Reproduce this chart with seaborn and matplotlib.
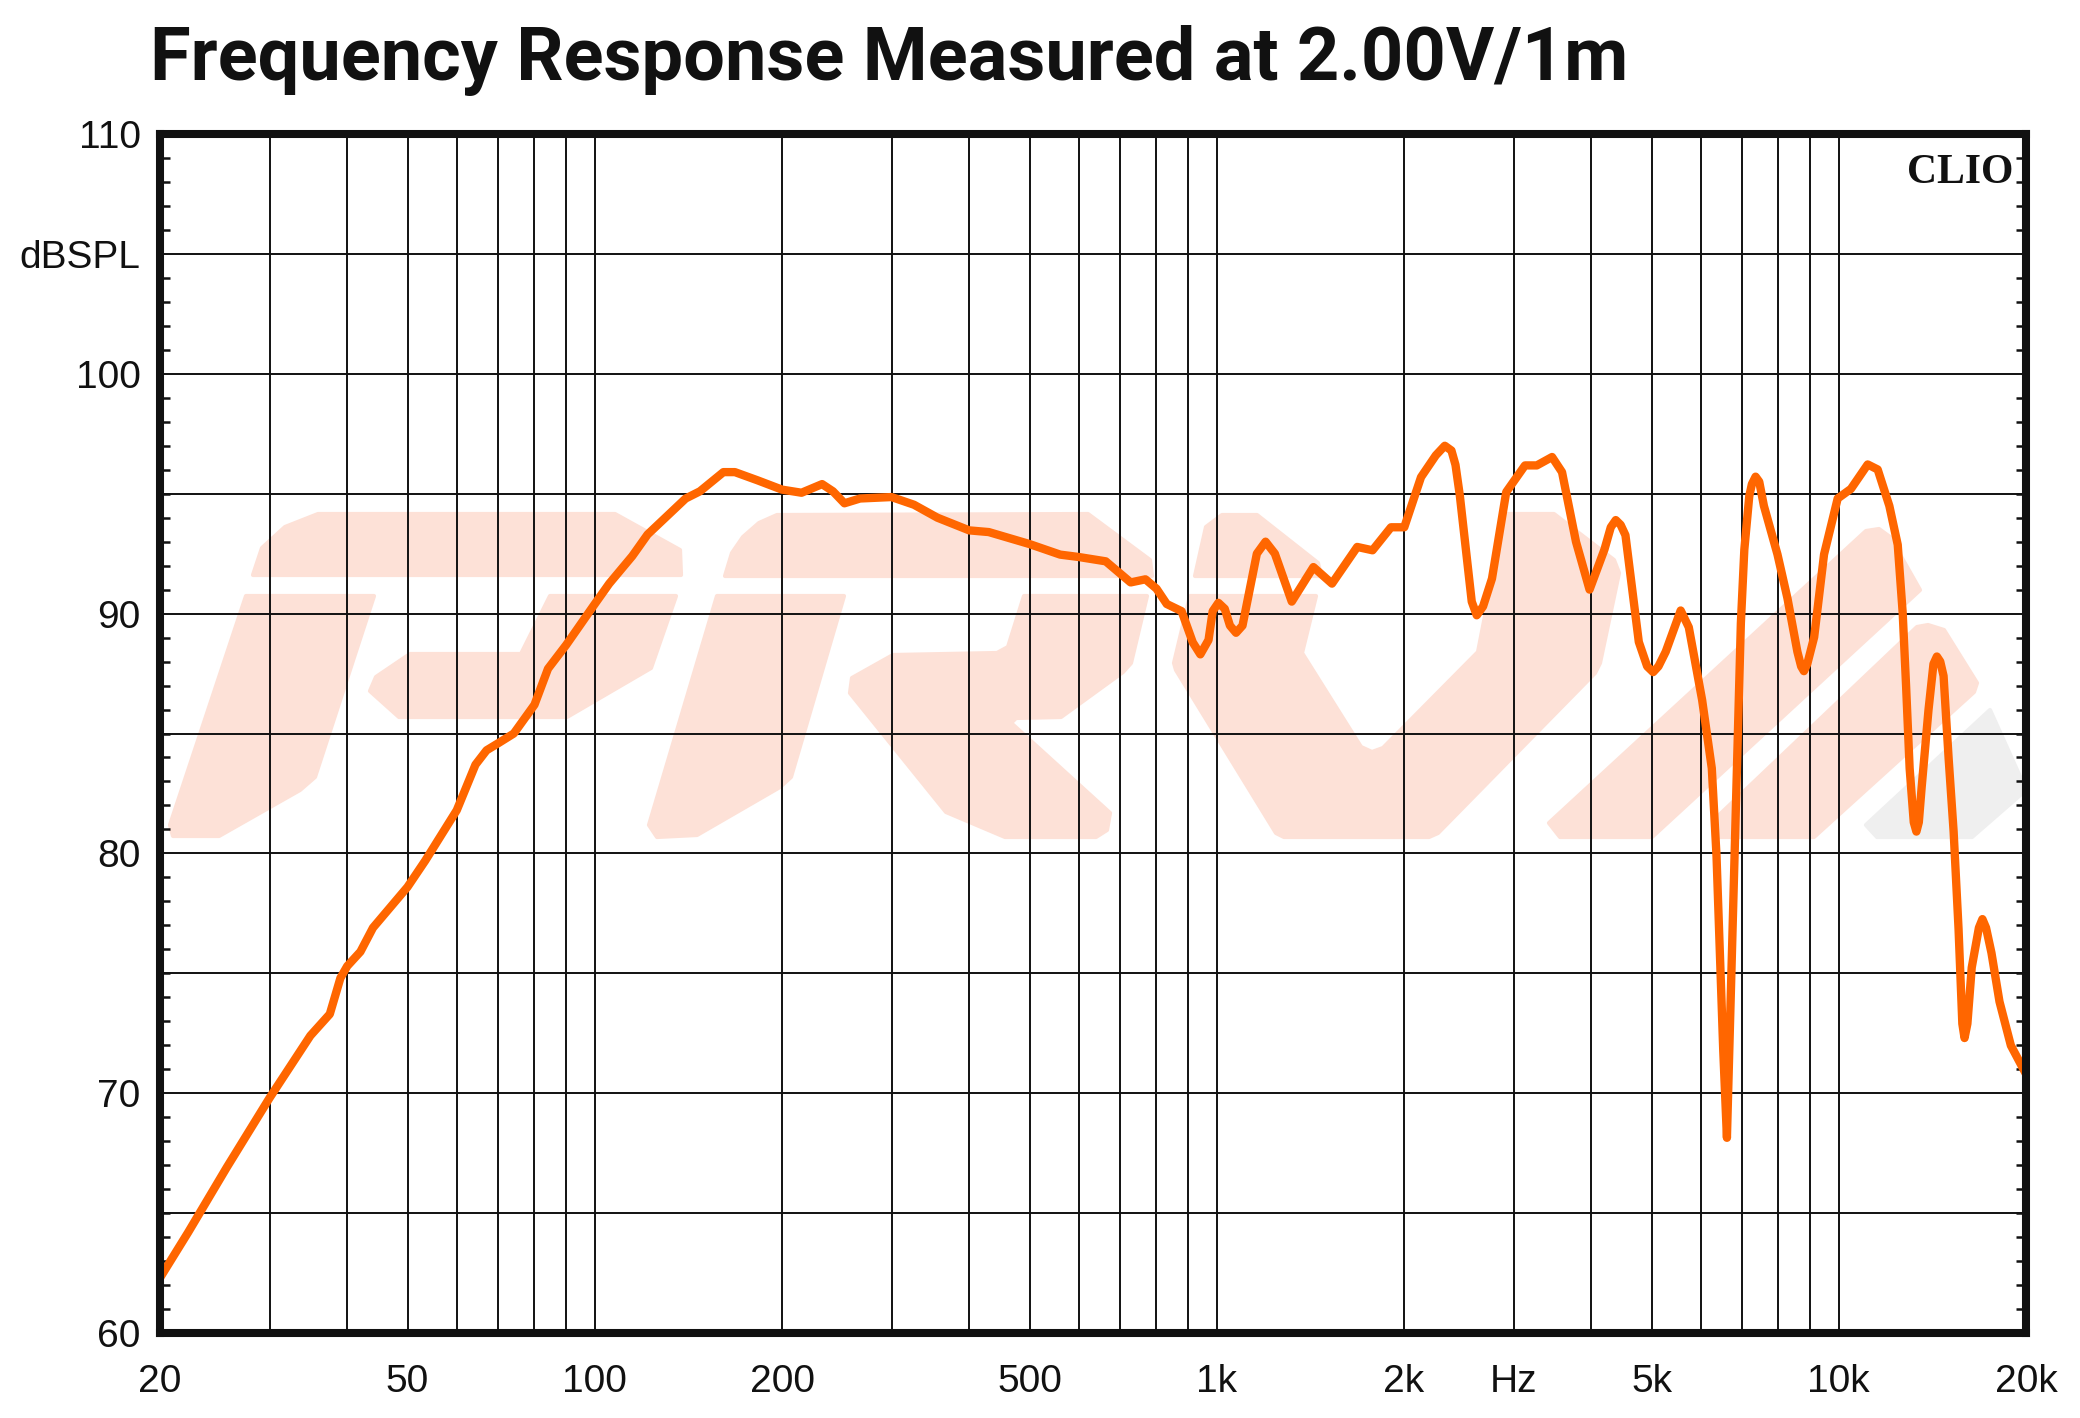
import matplotlib
matplotlib.use('Agg')
import matplotlib.pyplot as plt
import seaborn as sns
import pandas as pd
from matplotlib import font_manager
from matplotlib.patches import Polygon

# Frequency response
freq_hz = [20, 22.2, 25.6, 30, 34.9, 37.5, 39, 40, 42, 44, 50, 53.4, 60, 64.3, 67, 70,
           74.1, 80, 84.1, 90, 100, 105.5, 114.9, 121.6, 140, 147.6, 161, 168, 182.6,
           200, 215, 232, 241.5, 252, 267, 300, 326, 355.5, 400, 430, 500, 560, 600,
           663, 727, 768, 800, 831, 878, 915, 941, 970, 985, 1006, 1030, 1050, 1074, 1100,
           1160, 1198, 1240, 1320, 1430, 1532, 1682, 1780, 1906, 2002, 2130, 2250, 2326,
           2384, 2420, 2459, 2570, 2618, 2680, 2770, 2920, 3130, 3270, 3460, 3590, 3780,
           3975, 4200, 4300, 4380, 4460, 4540, 4770, 4920, 5030, 5130, 5270, 5570, 5740,
           6030, 6250, 6360, 6440, 6520, 6610, 6700, 6800, 6880, 6960, 7050, 7180, 7250,
           7350, 7450, 7580, 7970, 8270, 8580, 8700, 8790, 8900, 9130, 9470, 9960, 10460,
           11130, 11550, 12060, 12440, 12670, 12830, 13000, 13200, 13330, 13450, 13590,
           13940, 14200, 14380, 14560, 14740, 15020, 15300, 15580, 15800, 15930, 16100,
           16360, 16800, 17020, 17250, 17600, 18130, 18910, 20000]
spl_db = [62.3, 64.2, 66.9, 69.8, 72.4, 73.3, 74.8, 75.3, 75.9, 76.9, 78.6, 79.7, 81.8,
          83.7, 84.3, 84.6, 85.0, 86.2, 87.7, 88.7, 90.4, 91.25, 92.4, 93.3, 94.8, 95.1,
          95.9, 95.9, 95.56, 95.17, 95.04, 95.4, 95.1, 94.6, 94.8, 94.86, 94.54, 94.0,
          93.47, 93.4, 92.9, 92.46, 92.36, 92.18, 91.3, 91.43, 91.04, 90.4, 90.1, 88.8,
          88.3, 88.9, 90.1, 90.45, 90.2, 89.5, 89.2, 89.5, 92.5, 93.0, 92.5, 90.5, 91.94,
          91.25, 92.78, 92.64, 93.6, 93.6, 95.69, 96.6, 97.0, 96.8, 96.2, 94.93, 90.5,
          89.93, 90.3, 91.46, 95.07, 96.18, 96.18, 96.53, 95.9, 93.0, 91.0, 92.67, 93.6,
          93.9, 93.7, 93.27, 88.82, 87.8, 87.56, 87.8, 88.41, 90.13, 89.43, 86.4, 83.55,
          79.9, 75.85, 71.8, 68.14, 73.8, 79.9, 84.97, 89.6, 92.67, 94.9, 95.4, 95.71,
          95.5, 94.49, 92.47, 90.64, 88.41, 87.8, 87.6, 87.9, 89.02, 92.47, 94.8, 95.2,
          96.22, 96.01, 94.49, 92.87, 90.03, 86.99, 83.55, 81.3, 80.91, 81.3, 82.74,
          85.98, 87.9, 88.21, 88.0, 87.4, 83.95, 80.9, 76.86, 72.9, 72.3, 72.9, 75.24,
          76.9, 77.26, 76.9, 75.85, 73.82, 71.99, 70.8]

x_tick_pos = [20, 50, 100, 200, 500, 1000, 2000, 3000, 5000, 10000, 20000]
x_tick_labels = ['20', '50', '100', '200', '500', '1k', '2k', 'Hz', '5k', '10k', '20k']
y_tick_pos = [60, 70, 80, 90, 100, 105, 110]
y_tick_labels = ['60', '70', '80', '90', '100', 'dBSPL', '110']
grid_freqs = [30, 40, 50, 60, 70, 80, 90, 100, 200, 300, 400, 500, 600, 700, 800, 900,
              1000, 2000, 3000, 4000, 5000, 6000, 7000, 8000, 9000, 10000]
grid_db = [65, 70, 75, 80, 85, 90, 95, 100, 105]
minor_db = list(range(61, 110))

# watermark logo outlines, in image pixels (frame: x 160..2026, y 134..1333)
logo_pink = [
    [(253, 575), (262, 548), (285, 527), (318, 514), (615, 514), (680, 550), (681, 575)],
    [(246, 596), (374, 596), (315, 777), (300, 790), (219, 836), (173, 836), (170, 825)],
    [(550, 596), (676, 596), (651, 668), (567, 717), (399, 717), (370, 691), (376, 677),
     (410, 654), (521, 654)],
    [(725, 576), (732, 553), (743, 537), (759, 523), (777, 515), (1088, 514), (1150, 560),
     (1152, 576)],
    [(717, 596), (844, 596), (791, 777), (780, 787), (697, 835), (657, 837), (649, 825)],
    [(1024, 596), (1147, 596), (1131, 663), (1123, 672), (1061, 717), (1016, 718),
     (1011, 723), (1110, 813), (1107, 830), (1096, 837), (1005, 837), (946, 812),
     (850, 693), (852, 678), (893, 655), (997, 653), (1008, 647)],
    [(1195, 576), (1206, 527), (1222, 515), (1257, 515), (1318, 563), (1321, 576)],
    [(1190, 596), (1316, 596), (1302, 653), (1361, 747), (1372, 752), (1383, 748),
     (1478, 652), (1505, 514), (1554, 514), (1614, 560), (1619, 573), (1600, 663),
     (1595, 673), (1438, 833), (1429, 837), (1284, 837), (1276, 833), (1176, 670),
     (1174, 663)],
    [(1549, 823), (1866, 531), (1879, 529), (1890, 537), (1920, 590), (1652, 837),
     (1560, 837)],
    [(1714, 837), (1714, 820), (1917, 627), (1928, 625), (1944, 630), (1977, 683),
     (1974, 692), (1814, 837)],
]
logo_grey = [(1866, 825), (1990, 710), (2026, 790), (1972, 837), (1877, 837)]


def pick_font(names):
    have = {f.name for f in font_manager.fontManager.ttflist}
    for n in names:
        if n in have:
            return n
    return 'DejaVu Sans'


def to_axes(pts):
    return [((x - 160) / 1866.0, (1333 - y) / 1199.0) for x, y in pts]


if __name__ == '__main__':

    sns.set_theme(style="white")
    label_font = pick_font(['Liberation Sans Narrow', 'Liberation Sans', 'Arial'])
    plt.rcParams['font.family'] = [label_font, 'DejaVu Sans']
    ink = '#111111'

    df = pd.DataFrame({'freq': freq_hz, 'spl': spl_db})

    fig = plt.figure(figsize=(20.8, 14.18), dpi=100)
    ax = fig.add_axes([160 / 2080, 1 - 1333 / 1418, 1866 / 2080, 1199 / 1418])

    # pale logo behind the grid
    for pts in logo_pink:
        ax.add_patch(Polygon(to_axes(pts), closed=True, transform=ax.transAxes,
                             facecolor='#FDE1D7', edgecolor='#FDE1D7', linewidth=3,
                             joinstyle='round', zorder=0))
    ax.add_patch(Polygon(to_axes(logo_grey), closed=True, transform=ax.transAxes,
                         facecolor='#EFEFEF', edgecolor='#EFEFEF', linewidth=3,
                         joinstyle='round', zorder=0))

    for f in grid_freqs:
        ax.axvline(f, color=ink, linewidth=1.4, zorder=1)
    for d in grid_db:
        ax.axhline(d, color=ink, linewidth=1.4, zorder=1)

    sns.lineplot(data=df, x='freq', y='spl', ax=ax, color='#FF6600', linewidth=6,
                 sort=False, estimator=None, zorder=5)
    ax.lines[-1].set_solid_joinstyle('round')
    ax.lines[-1].set_solid_capstyle('round')

    ax.set_xscale('log')
    ax.set_xlim(20, 20000)
    ax.set_ylim(60, 110)
    ax.set_xlabel('')
    ax.set_ylabel('')

    ax.set_xticks(x_tick_pos)
    ax.set_xticklabels(x_tick_labels)
    ax.xaxis.set_minor_locator(matplotlib.ticker.NullLocator())
    ax.set_yticks(y_tick_pos)
    ax.set_yticklabels(y_tick_labels)
    ax.set_yticks(minor_db, minor=True)

    ax.tick_params(axis='x', which='major', length=0, pad=22, labelsize=28, labelcolor=ink)
    ax.tick_params(axis='y', which='major', length=0, pad=14, labelsize=28, labelcolor=ink)
    ax.tick_params(axis='y', which='minor', direction='in', length=7, width=1.8,
                   color=ink, left=True, right=True)

    for s in ax.spines.values():
        s.set_visible(True)
        s.set_color(ink)
        s.set_linewidth(5.8)
        s.set_zorder(6)

    ax.text(0.993, 0.983, 'CLIO', transform=ax.transAxes, ha='right', va='top',
            fontsize=30, fontweight='bold', color=ink,
            family=[pick_font(['Liberation Serif', 'DejaVu Serif']), 'DejaVu Serif'],
            zorder=7)

    title_font = pick_font(['Roboto', 'Open Sans', 'Lato'])
    title = fig.text(150 / 2080, 1 - 80 / 1418, 'Frequency Response Measured at 2.00V/1m',
                     ha='left', va='baseline', fontsize=52, fontweight='bold', color=ink,
                     family=[title_font, 'DejaVu Sans'])
    fig.canvas.draw()
    w = title.get_window_extent().width
    title.set_fontsize(52 * 1479.0 / w)

    fig.savefig('out.png', dpi=100, facecolor='white')
